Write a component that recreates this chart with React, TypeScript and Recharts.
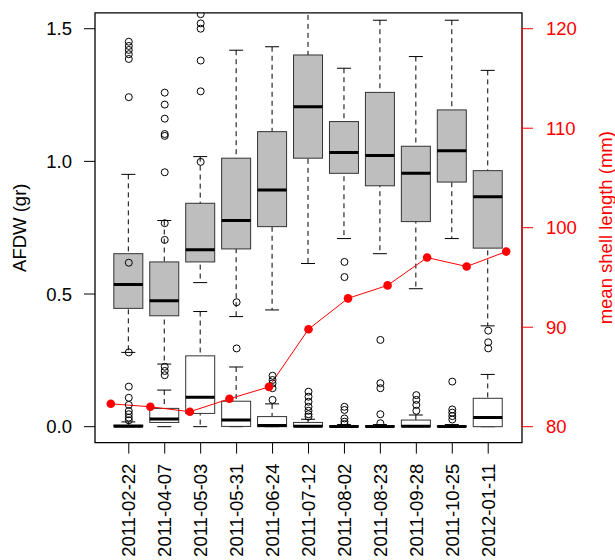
import { ComposedChart, Bar, Line, Scatter, XAxis, YAxis, ReferenceArea, ReferenceLine, Label } from 'recharts'

const FONT = '"Liberation Sans", Arial, Helvetica, sans-serif'

const dates = [
  '2011-02-22', '2011-04-07', '2011-05-03', '2011-05-31', '2011-06-24', '2011-07-12',
  '2011-08-02', '2011-08-23', '2011-09-28', '2011-10-25', '2012-01-11',
]

// AFDW boxplots (grey boxes)
const afdwLow = [0.28, 0.236, 0.543, 0.415, 0.44, 0.615, 0.709, 0.652, 0.52, 0.709, 0.38]
const afdwQ1 = [0.446, 0.418, 0.621, 0.67, 0.754, 1.012, 0.955, 0.908, 0.773, 0.922, 0.673]
const afdwMed = [0.536, 0.475, 0.667, 0.777, 0.892, 1.206, 1.033, 1.022, 0.955, 1.04, 0.867]
const afdwQ3 = [0.652, 0.621, 0.842, 1.012, 1.112, 1.401, 1.15, 1.26, 1.057, 1.194, 0.965]
const afdwHigh = [0.951, 0.777, 1.018, 1.419, 1.432, 1.62, 1.351, 1.532, 1.395, 1.532, 1.343]
const afdwOut = [
  [1.242, 1.386, 1.404, 1.42, 1.435, 1.451],
  [0.959, 1.096, 1.103, 1.161, 1.214, 1.259],
  [0.998, 1.264, 1.38, 1.5, 1.52, 1.555],
  [], [], [], [], [], [], [],
  [0.362, 0.318, 0.295],
]

// second variable (white boxes)
const smallLow = [0, 0, 0, 0, 0, 0, 0, 0, 0, 0, 0]
const smallQ1 = [0, 0.016, 0.05, 0.001, 0, 0, 0, 0, 0, 0, 0]
const smallMed = [0.002, 0.029, 0.111, 0.025, 0.004, 0.002, 0.001, 0.001, 0.002, 0.001, 0.035]
const smallQ3 = [0.006, 0.069, 0.267, 0.096, 0.038, 0.016, 0.003, 0.003, 0.025, 0.003, 0.107]
const smallHigh = [0.018, 0.138, 0.434, 0.225, 0.086, 0.028, 0.008, 0.008, 0.044, 0.008, 0.197]
const smallOut = [
  [0.024, 0.034, 0.047, 0.059, 0.082, 0.109, 0.151, 0.28, 0.618],
  [0.194, 0.21, 0.226, 0.704, 0.767],
  [],
  [0.295, 0.469],
  [0.101, 0.145, 0.163, 0.176, 0.192],
  [0.038, 0.047, 0.06, 0.075, 0.094, 0.113, 0.132],
  [0.01, 0.019, 0.031, 0.063, 0.075, 0.564, 0.621],
  [0.013, 0.047, 0.145, 0.164, 0.327],
  [0.06, 0.082, 0.101, 0.119],
  [0.027, 0.04, 0.053, 0.065, 0.17],
  [],
]

// mean shell length (mm), right axis
const shellLength = [82.3, 82.0, 81.5, 82.8, 84.0, 89.8, 92.9, 94.2, 97.0, 96.1, 97.6]

const leftTicks = [0, 0.5, 1, 1.5]
const rightTicks = [80, 90, 100, 110, 120]
const boxDomain = [0.06, 11.94]
const lineDomain = [0.6, 11.4]

const data = dates.map((date, i) => ({
  pos: i + 1,
  date,
  gWhisk: [afdwLow[i], afdwHigh[i]],
  gBox: [afdwQ1[i], afdwQ3[i]],
  gMed: afdwMed[i],
  wWhisk: [smallLow[i], smallHigh[i]],
  wBox: [smallQ1[i], smallQ3[i]],
  wMed: smallMed[i],
  shell: shellLength[i],
}))

const outliers = [...afdwOut, ...smallOut].flatMap((vals, k) =>
  vals.map((val) => ({ pos: (k % dates.length) + 1, val }))
)

const Whisker = (props: any) => {
  const { x, y, width, height } = props
  const cx = x + width / 2
  const top = Math.min(y, y + height)
  const bot = Math.max(y, y + height)
  return (
    <g>
      <line x1={cx} x2={cx} y1={top} y2={bot} stroke="#000" strokeDasharray="5 4" />
      <line x1={cx - 7} x2={cx + 7} y1={top} y2={top} stroke="#000" />
      <line x1={cx - 7} x2={cx + 7} y1={bot} y2={bot} stroke="#000" />
    </g>
  )
}

const makeBox = (boxKey: string, medKey: string, fill: string) => (props: any) => {
  const { x, y, width, height, payload } = props
  const [q1, q3] = payload[boxKey]
  const med = payload[medKey]
  const top = Math.min(y, y + height)
  const h = Math.abs(height)
  const my = top + h * (q3 === q1 ? 1 : (q3 - med) / (q3 - q1))
  return (
    <g>
      <rect x={x} y={top} width={width} height={h} fill={fill} stroke="#333" strokeWidth={1} />
      <line x1={x} x2={x + width} y1={my} y2={my} stroke="#000" strokeWidth={3} />
    </g>
  )
}

const DateTick = ({ x, y, payload }: any) => (
  <text
    x={x}
    y={y}
    transform={`rotate(-90, ${x}, ${y})`}
    textAnchor="end"
    dy="0.36em"
    fontSize={18.5}
    fontFamily={FONT}
    fill="#000"
  >
    {dates[payload.value - 1]}
  </text>
)

export default function App() {
  return (
    <div style={{ position: 'absolute', left: 0, top: 0, background: '#fff' }}>
      <ComposedChart
        width={615}
        height={560}
        data={data}
        margin={{ top: 12.8, right: 33, bottom: 7.4, left: 35 }}
      >
        <XAxis
          xAxisId="box"
          dataKey="pos"
          type="number"
          domain={boxDomain}
          ticks={data.map((d) => d.pos)}
          interval={0}
          allowDataOverflow
          axisLine={false}
          tickLine={{ stroke: '#000' }}
          tickSize={11}
          tickMargin={10}
          height={110}
          tick={<DateTick />}
        />
        {['gw', 'gb', 'ww', 'wb'].map((id) => (
          <XAxis key={id} xAxisId={id} dataKey="pos" type="number" domain={boxDomain} allowDataOverflow hide />
        ))}
        <XAxis xAxisId="line" dataKey="pos" type="number" domain={lineDomain} allowDataOverflow hide />
        <YAxis
          yAxisId="left"
          type="number"
          domain={[-0.06, 1.56]}
          ticks={leftTicks}
          allowDataOverflow
          width={60}
          axisLine={false}
          tickLine={{ stroke: '#000' }}
          tickSize={11}
          tickMargin={12}
          tickFormatter={(v: number) => v.toFixed(1)}
          tick={{ fill: '#000', fontSize: 18.5, fontFamily: FONT }}
        >
          <Label
            content={({ viewBox }: any) => {
              const tx = viewBox.x - 9
              const ty = viewBox.y + viewBox.height / 2
              return (
                <text x={tx} y={ty} transform={`rotate(-90, ${tx}, ${ty})`} textAnchor="middle" fontSize={18.5} fontFamily={FONT} fill="#000">
                  AFDW (gr)
                </text>
              )
            }}
          />
        </YAxis>
        <YAxis
          yAxisId="right"
          orientation="right"
          type="number"
          domain={[78.4, 121.6]}
          ticks={rightTicks}
          allowDataOverflow
          width={60}
          axisLine={false}
          tickLine={{ stroke: '#ff0000' }}
          tickSize={11}
          tickMargin={13}
          tick={{ fill: '#ff0000', fontSize: 18.5, fontFamily: FONT }}
        >
          <Label
            content={({ viewBox }: any) => {
              const tx = viewBox.x + 90
              const ty = viewBox.y + viewBox.height / 2
              return (
                <text x={tx} y={ty} transform={`rotate(-90, ${tx}, ${ty})`} textAnchor="middle" fontSize={18.5} fontFamily={FONT} fill="#ff0000">
                  mean shell length (mm)
                </text>
              )
            }}
          />
        </YAxis>
        <Bar xAxisId="gw" yAxisId="left" dataKey={(d: any) => d.gWhisk} barSize={29} shape={Whisker} isAnimationActive={false} />
        <Bar xAxisId="ww" yAxisId="left" dataKey={(d: any) => d.wWhisk} barSize={29} shape={Whisker} isAnimationActive={false} />
        <Bar xAxisId="gb" yAxisId="left" dataKey={(d: any) => d.gBox} barSize={29} shape={makeBox('gBox', 'gMed', '#bebebe')} isAnimationActive={false} />
        <Bar xAxisId="wb" yAxisId="left" dataKey={(d: any) => d.wBox} barSize={29} shape={makeBox('wBox', 'wMed', '#ffffff')} isAnimationActive={false} />
        <Scatter
          xAxisId="box"
          yAxisId="left"
          data={outliers}
          dataKey="val"
          isAnimationActive={false}
          shape={(p: any) => <circle cx={p.cx} cy={p.cy} r={3.5} fill="none" stroke="#000" strokeWidth={1} />}
        />
        <Line
          xAxisId="line"
          yAxisId="right"
          dataKey="shell"
          stroke="#ff0000"
          strokeWidth={1}
          dot={{ r: 4.3, fill: '#ff0000', stroke: 'none' }}
          activeDot={false}
          isAnimationActive={false}
        />
        <ReferenceArea
          xAxisId="box"
          yAxisId="left"
          x1={boxDomain[0]}
          x2={boxDomain[1]}
          y1={-0.06}
          y2={1.56}
          fill="none"
          fillOpacity={0}
          stroke="#000"
          strokeWidth={1.3}
          ifOverflow="visible"
        />
        <ReferenceLine
          xAxisId="box"
          yAxisId="right"
          segment={[{ x: boxDomain[1], y: 80 }, { x: boxDomain[1], y: 120 }]}
          stroke="#ff0000"
          strokeWidth={1}
          ifOverflow="visible"
        />
      </ComposedChart>
    </div>
  )
}
